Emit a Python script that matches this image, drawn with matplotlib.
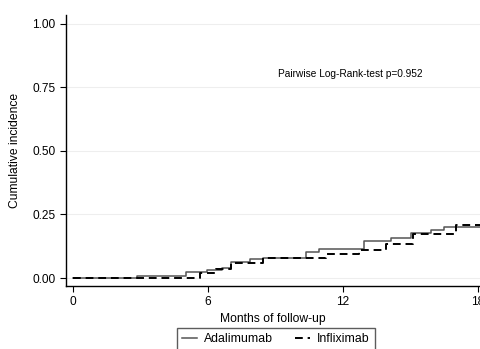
import matplotlib
matplotlib.use("Agg")
import matplotlib.pyplot as plt

# step times (months) and cumulative incidence
ada_t = [0, 2.82, 5.0, 5.95, 6.6, 7.0, 7.85, 8.45, 10.37, 10.93, 12.92, 14.15, 15.04, 15.93, 16.52, 18.1]
ada_y = [0, 0.009, 0.024, 0.030, 0.040, 0.064, 0.073, 0.077, 0.104, 0.115, 0.147, 0.159, 0.176, 0.189, 0.202, 0.202]
inf_t = [0, 5.63, 6.37, 7.0, 8.45, 11.26, 12.71, 13.93, 15.1, 17.04, 18.1]
inf_y = [0, 0.018, 0.034, 0.060, 0.077, 0.094, 0.110, 0.134, 0.172, 0.209, 0.209]

xticks = [0, 6, 12, 18]
yticks = [0, 0.25, 0.5, 0.75, 1.0]

plt.rcParams['font.family'] = ['Liberation Sans', 'DejaVu Sans']

fig = plt.figure(figsize=(4.8, 3.49), dpi=100)
ax = fig.add_axes([0.1375, 0.1805, 0.8625, 0.7765])

for y in yticks:
    ax.axhline(y, color='#eeeeee', lw=0.8, zorder=0)

ax.step(ada_t, ada_y, where='post', color='#555555', lw=1.1, label='Adalimumab')
ax.step(inf_t, inf_y, where='post', color='black', lw=1.4, dashes=(4, 2.5), label='Infliximab')

ax.set_xlim(-0.325, 18.1)
ax.set_ylim(-0.0315, 1.035)
ax.set_xticks(xticks)
ax.set_yticks(yticks)
ax.set_yticklabels(['%.2f' % v for v in yticks])
ax.tick_params(direction='out', length=4, width=0.8, labelsize=8.6, colors='black')
for s in ['top', 'right']:
    ax.spines[s].set_visible(False)
for s in ['left', 'bottom']:
    ax.spines[s].set_linewidth(1.0)

ax.set_xlabel('Months of follow-up', fontsize=8.7, labelpad=3)
ax.set_ylabel('Cumulative incidence', fontsize=8.7, labelpad=8)
ax.text(9.1, 0.803, 'Pairwise Log-Rank-test p=0.952', fontsize=7.3, va='center')

fig.legend(loc='upper center', bbox_to_anchor=(0.575, 0.077), ncol=2, fontsize=8.8,
           frameon=True, fancybox=False, edgecolor='#333333', handlelength=1.2,
           handletextpad=0.6, columnspacing=1.8, borderpad=0.4)

fig.savefig('out.png', dpi=100)
